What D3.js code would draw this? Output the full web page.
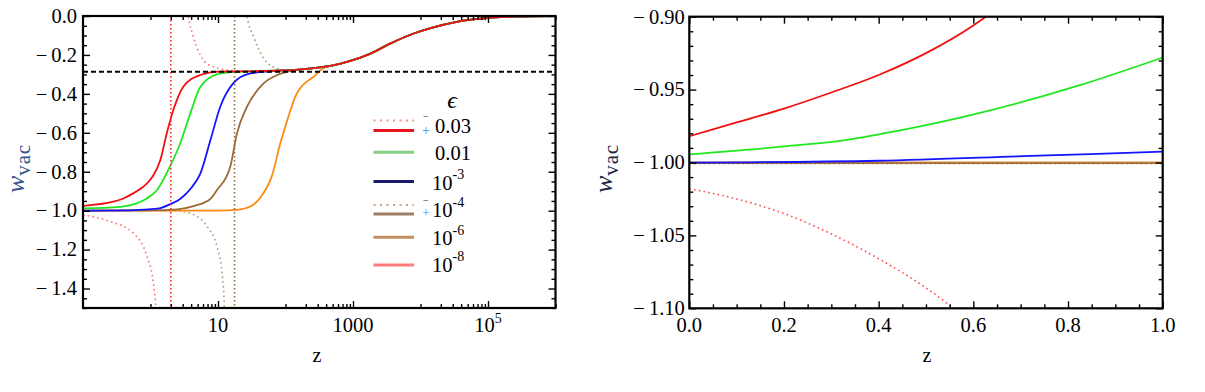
<!DOCTYPE html>
<html><head><meta charset="utf-8">
<script src="https://cdn.jsdelivr.net/npm/d3@7"></script>
<style>
body{margin:0;background:#fff}
svg{display:block}
</style>
</head><body>
<svg id="c" width="1205" height="392"></svg>
<script>
// ---------------- DATA ----------------
// Left panel (log z)
const tailZ = [10, 31.6, 83.2, 158, 263, 501, 813, 1820, 3550, 7940, 14100, 34700, 77600, 240000, 1000000];
const tailW = [-0.286, -0.284, -0.280, -0.275, -0.268, -0.254, -0.236, -0.193, -0.142, -0.090, -0.062, -0.030, -0.014, -0.003, 0.0];

const redZ = [0.1, 0.282, 0.38, 0.562, 0.78, 1.05, 1.40, 1.75, 2.18, 3.06, 5.47];
const redW = [-0.975, -0.954, -0.940, -0.910, -0.877, -0.83, -0.74, -0.60, -0.483, -0.363, -0.303];

const greenZ = [0.1, 0.355, 0.596, 0.857, 1.25, 1.96, 2.75, 3.89, 5.47, 9.66, 17];
const greenW = [-0.988, -0.980, -0.965, -0.940, -0.894, -0.77, -0.655, -0.50, -0.365, -0.30, -0.288];

const blueZ = [0.1, 0.5, 1.26, 2.0, 2.75, 3.98, 5.47, 7.69, 10.8, 16.9, 30.1, 59.6];
const blueW = [-1.0, -0.998, -0.99, -0.965, -0.94, -0.885, -0.81, -0.64, -0.466, -0.345, -0.295, -0.284];

const brownZ = [0.1, 1.0, 2.51, 4.47, 7.69, 9.66, 15.2, 19.1, 26.9, 47.4, 79.4];
const brownW = [-1.0, -0.999, -0.993, -0.975, -0.94, -0.894, -0.774, -0.603, -0.466, -0.346, -0.30];

const orangeZ = [0.1, 10, 20, 31.6, 42.4, 63.1, 83.8, 93.3, 148, 166, 261, 363];
const orangeW = [-1.0, -1.0, -0.995, -0.975, -0.932, -0.82, -0.654, -0.60, -0.397, -0.37, -0.312, -0.268];

const redDotLoZ = [0.1, 0.254, 0.556, 0.887, 1.10, 1.20, 1.28];
const redDotLoW = [-1.022, -1.056, -1.115, -1.236, -1.37, -1.50, -1.70];
const redDotHiZ = [3.3, 3.63, 4.31, 5.47, 6.87, 10.8, 17];
const redDotHiW = [0.12, 0.0, -0.106, -0.20, -0.245, -0.27, -0.281];

const brownDotLoZ = [0.1, 2.18, 4.31, 6.87, 9.66, 11.5, 12.4, 12.9];
const brownDotLoW = [-1.0, -1.0, -1.02, -1.08, -1.185, -1.32, -1.485, -1.70];
const brownDotHiZ = [24.5, 26.9, 33.7, 47.4, 74.8, 118];
const brownDotHiW = [0.12, 0.0, -0.106, -0.217, -0.27, -0.281];

const poleZ = [2.0, 17.6];          // vertical dotted asymptotes
const refW = -0.286;                // dashed reference line

// Right panel (linear z)
const rRedZ = [0, 0.1, 0.2, 0.3, 0.4, 0.5, 0.6, 0.66];
const rRedW = [-0.982, -0.9725, -0.963, -0.952, -0.940, -0.925, -0.906, -0.892];
const rGreenZ = [0, 0.2, 0.333, 0.403, 0.445, 0.614, 0.825, 1.0];
const rGreenW = [-0.9944, -0.989, -0.9845, -0.9805, -0.978, -0.966, -0.947, -0.928];
const rBlueZ = [0, 0.4, 0.72, 1.0];
const rBlueW = [-1.0001, -0.9988, -0.9955, -0.9926];
const rFlatZ = [0, 1];
const rOrangeW = [-1.0, -1.0];
const rBrownW = [-1.0004, -1.0004];
const rBrownDotW = [-1.0009, -1.0009];
const rRedDotZ = [0, 0.1, 0.2, 0.3, 0.4, 0.5, 0.6];
const rRedDotW = [-1.018, -1.025, -1.035, -1.049, -1.066, -1.086, -1.111];

// Ticks
const yTicksL = [0, -0.2, -0.4, -0.6, -0.8, -1.0, -1.2, -1.4];
const xTicksL = [10, 1000, 100000];
const xLabelsL = [["10",""], ["1000",""], ["10","5"]];
const yTicksR = [-0.90, -0.95, -1.00, -1.05, -1.10];
const xTicksR = [0, 0.2, 0.4, 0.6, 0.8, 1.0];

// Legend
const legendMain = ["0.03", "0.01", "10", "10", "10", "10"];
const legendSup  = ["", "", "-3", "-4", "-6", "-8"];
const legendSign = [true, false, false, true, false, false];

// ---------------- DRAWING ----------------
const FONT = "'Liberation Serif'";
const svg = d3.select("#c");
const pts = (zs, ws) => zs.map((z, i) => [z, ws[i]]);
const withTail = (zs, ws) => {
  const p = pts(zs, ws);
  const last = zs[zs.length - 1];
  tailZ.forEach((z, i) => { if (z > last * 1.3) p.push([z, tailW[i]]); });
  return p;
};
const txt = (x, y) => svg.append("text").attr("x", x).attr("y", y).style("font-family", FONT);

const xL = d3.scaleLog().domain([0.1, 1e6]).range([83, 555.5]);
const yL = d3.scaleLinear().domain([-1.5, 0]).range([308, 16]);
const xR = d3.scaleLinear().domain([0, 1]).range([689.3, 1162.7]);
const yR = d3.scaleLinear().domain([-1.1, -0.9]).range([308.3, 16.7]);

const defs = svg.append("defs");
defs.append("clipPath").attr("id", "clipL").append("rect")
  .attr("x", xL.range()[0]).attr("y", yL.range()[1])
  .attr("width", xL.range()[1] - xL.range()[0]).attr("height", yL.range()[0] - yL.range()[1]);
defs.append("clipPath").attr("id", "clipR").append("rect")
  .attr("x", xR.range()[0]).attr("y", yR.range()[1])
  .attr("width", xR.range()[1] - xR.range()[0]).attr("height", yR.range()[0] - yR.range()[1]);

function ticks(axis, x, y, vals, size) {
  const g = svg.append("g").attr("transform", `translate(${x},${y})`)
    .call(axis.tickValues(vals).tickSize(-size).tickFormat(""));
  g.select(".domain").remove();
  g.selectAll("line").attr("stroke", "#000").attr("stroke-width", 1.4);
}

// ---- Left panel ----
const lineL = d3.line().x(d => xL(d[0])).y(d => yL(d[1])).curve(d3.curveMonotoneX);
const gL = svg.append("g").attr("clip-path", "url(#clipL)");

function pathL(data, color, w, dash) {
  const p = gL.append("path").datum(data).attr("d", lineL).attr("fill", "none")
    .attr("stroke", color).attr("stroke-width", w).attr("stroke-linecap", "round");
  if (dash) p.attr("stroke-dasharray", dash).attr("stroke-linecap", "butt");
}
const dotDash = "1.6 3.2";
pathL(pts(brownDotLoZ, brownDotLoW), "#b89878", 1.6, dotDash);
pathL(withTail(brownDotHiZ, brownDotHiW), "#b89878", 1.6, dotDash);
pathL(pts(redDotLoZ, redDotLoW), "#ff7070", 1.6, dotDash);
pathL(withTail(redDotHiZ, redDotHiW), "#ff7070", 1.6, dotDash);
pathL(withTail(orangeZ, orangeW), "#ff8a12", 1.8);
pathL(withTail(brownZ, brownW), "#9a6a38", 1.8);
pathL(withTail(blueZ, blueW), "#1414ff", 1.8);
pathL(withTail(greenZ, greenW), "#1ee81e", 1.8);
pathL(withTail(redZ, redW), "#f01010", 1.8);

// pole asymptotes
const poleColors = ["#ff2a2a", "#8f6f3f"];
poleZ.forEach((z, i) => {
  gL.append("line").attr("x1", xL(z)).attr("x2", xL(z))
    .attr("y1", yL(0)).attr("y2", yL(-1.5))
    .attr("stroke", poleColors[i]).attr("stroke-width", 1.6).attr("stroke-dasharray", "1.5 2.5");
});
// dashed reference line
gL.append("line").attr("x1", xL(0.1)).attr("x2", xL(1e6))
  .attr("y1", yL(refW)).attr("y2", yL(refW))
  .attr("stroke", "#000").attr("stroke-width", 2).attr("stroke-dasharray", "5 3");

// left ticks
const yMinorL = d3.range(0, -1.5001, -0.05).filter(v => Math.abs(Math.round(v * 5) / 5 - v) > 1e-6);
const xMinorL = [];
[1, 100, 10000].forEach(b => { for (let j = 1; j <= 9; j++) xMinorL.push(b * j); });
xMinorL.push(1000000);
ticks(d3.axisLeft(yL), xL.range()[0], 0, yTicksL, 7);
ticks(d3.axisLeft(yL), xL.range()[0], 0, yMinorL, 4);
ticks(d3.axisRight(yL), xL.range()[1], 0, yTicksL, 7);
ticks(d3.axisRight(yL), xL.range()[1], 0, yMinorL, 4);
ticks(d3.axisBottom(xL), 0, yL.range()[0], xTicksL, 7);
ticks(d3.axisBottom(xL), 0, yL.range()[0], xMinorL, 4);
ticks(d3.axisTop(xL), 0, yL.range()[1], xTicksL, 7);
ticks(d3.axisTop(xL), 0, yL.range()[1], xMinorL, 4);

svg.append("rect").attr("x", xL.range()[0]).attr("y", yL.range()[1])
  .attr("width", xL.range()[1] - xL.range()[0]).attr("height", yL.range()[0] - yL.range()[1])
  .attr("fill", "none").attr("stroke", "#000").attr("stroke-width", 2.2);

const fmtY = (v, d) => (Math.abs(v) < 1e-9 ? (0).toFixed(d) : (v < 0 ? "\u2212\u2009" : "") + Math.abs(v).toFixed(d));
yTicksL.forEach(v => {
  txt(xL.range()[0] - 6, yL(v) + 6.8).attr("text-anchor", "end").attr("font-size", 20.5).text(fmtY(v, 1));
});
xTicksL.forEach((v, i) => {
  const t = txt(xL(v), 331.5).attr("text-anchor", "middle").attr("font-size", 20.5);
  t.append("tspan").text(xLabelsL[i][0]);
  if (xLabelsL[i][1]) t.append("tspan").attr("font-size", 14).attr("dy", -9).text(xLabelsL[i][1]);
});

// ---- Right panel ----
const lineR = d3.line().x(d => xR(d[0])).y(d => yR(d[1])).curve(d3.curveMonotoneX);
const gR = svg.append("g").attr("clip-path", "url(#clipR)");
function pathR(data, color, w, dash) {
  const p = gR.append("path").datum(data).attr("d", lineR).attr("fill", "none")
    .attr("stroke", color).attr("stroke-width", w);
  if (dash) p.attr("stroke-dasharray", dash);
}
pathR(pts(rFlatZ, rBrownDotW), "#c8a070", 1.6, dotDash);
pathR(pts(rFlatZ, rOrangeW), "#e89030", 2);
pathR(pts(rFlatZ, rBrownW), "#a07040", 1.8);
pathR(pts(rRedDotZ, rRedDotW), "#ff4d4d", 1.6, dotDash);
pathR(pts(rBlueZ, rBlueW), "#1414ff", 1.8);
pathR(pts(rGreenZ, rGreenW), "#1ee81e", 1.8);
pathR(pts(rRedZ, rRedW), "#f01010", 1.8);

const yMinorR = d3.range(-0.9, -1.1001, -0.01).filter(v => Math.abs(Math.round(v * 20) / 20 - v) > 1e-6);
const xMinorR = d3.range(0, 1.0001, 0.05).filter(v => Math.abs(Math.round(v * 5) / 5 - v) > 1e-6);
ticks(d3.axisLeft(yR), xR.range()[0], 0, yTicksR, 7);
ticks(d3.axisLeft(yR), xR.range()[0], 0, yMinorR, 4);
ticks(d3.axisRight(yR), xR.range()[1], 0, yTicksR, 7);
ticks(d3.axisRight(yR), xR.range()[1], 0, yMinorR, 4);
ticks(d3.axisBottom(xR), 0, yR.range()[0], xTicksR, 7);
ticks(d3.axisBottom(xR), 0, yR.range()[0], xMinorR, 4);
ticks(d3.axisTop(xR), 0, yR.range()[1], xTicksR, 7);
ticks(d3.axisTop(xR), 0, yR.range()[1], xMinorR, 4);

svg.append("rect").attr("x", xR.range()[0]).attr("y", yR.range()[1])
  .attr("width", xR.range()[1] - xR.range()[0]).attr("height", yR.range()[0] - yR.range()[1])
  .attr("fill", "none").attr("stroke", "#000").attr("stroke-width", 2.2);

yTicksR.forEach(v => {
  txt(xR.range()[0] - 4.5, yR(v) + 6.8).attr("text-anchor", "end").attr("font-size", 20.5).text(fmtY(v, 2));
});
xTicksR.forEach(v => {
  txt(xR(v), 331.5).attr("text-anchor", "middle").attr("font-size", 20.5).text(v.toFixed(1));
});

// ---- Axis labels ----
function yLabel(x, y, color) {
  const t = svg.append("text").attr("transform", `translate(${x},${y}) rotate(-90)`)
    .style("font-family", FONT).style("fill", color);
  t.append("tspan").attr("font-size", 26).attr("font-style", "italic").text("w");
  t.append("tspan").attr("font-size", 21).attr("dy", 6).attr("letter-spacing", 0.8).text("vac");
}
yLabel(24, 193, "#34558f");
yLabel(612, 193, "#1e2744");
txt(317, 361.5).attr("text-anchor", "middle").attr("font-size", 20).text("z");
txt(927, 361.5).attr("text-anchor", "middle").attr("font-size", 20).text("z");

// ---- Legend ----
const legX1 = 373.5, legX2 = 414;
const legSolidY = [130.5, 152.3, 181.5, 214, 237.3, 265];
const legDotY = [120.5, null, null, 205, null, null];
const legColors = ["#e8141c", "#85cf85", "#1b1b6b", "#9e7f66", "#c59060", "#ff7c7c"];
const legDotColors = ["#ff8c8c", null, null, "#c4a585", null, null];
const legTextY = [133.3, 160, 189.5, 217, 245, 271.7];
const legTextX = [435, 435, 432, 432, 432, 432];
const legMinusY = [120, null, null, 203.5, null, null];
const legPlusY = [135.3, null, null, 217.3, null, null];
const legPlusSize = [14, null, null, 13, null, null];

txt(452, 108).attr("text-anchor", "middle").attr("font-size", 24).attr("font-style", "italic").text("\u03F5");

legendMain.forEach((m, i) => {
  svg.append("line").attr("x1", legX1).attr("x2", legX2).attr("y1", legSolidY[i]).attr("y2", legSolidY[i])
    .attr("stroke", legColors[i]).attr("stroke-width", 3);
  if (legDotY[i] !== null) {
    svg.append("line").attr("x1", legX1).attr("x2", legX2).attr("y1", legDotY[i]).attr("y2", legDotY[i])
      .attr("stroke", legDotColors[i]).attr("stroke-width", 2).attr("stroke-dasharray", "2 4.5");
  }
  const t = txt(legTextX[i], legTextY[i]).attr("font-size", 20.5);
  t.append("tspan").text(m);
  if (legendSup[i]) t.append("tspan").attr("font-size", 14).attr("dy", -10.5).text(legendSup[i]);
  if (legendSign[i]) {
    txt(425.8, legMinusY[i]).attr("text-anchor", "middle").attr("font-size", 10).text("\u2212");
    txt(426, legPlusY[i]).attr("text-anchor", "middle").attr("font-size", legPlusSize[i])
      .style("fill", "#3d8fd6").text("+");
  }
});
</script>
</body></html>
